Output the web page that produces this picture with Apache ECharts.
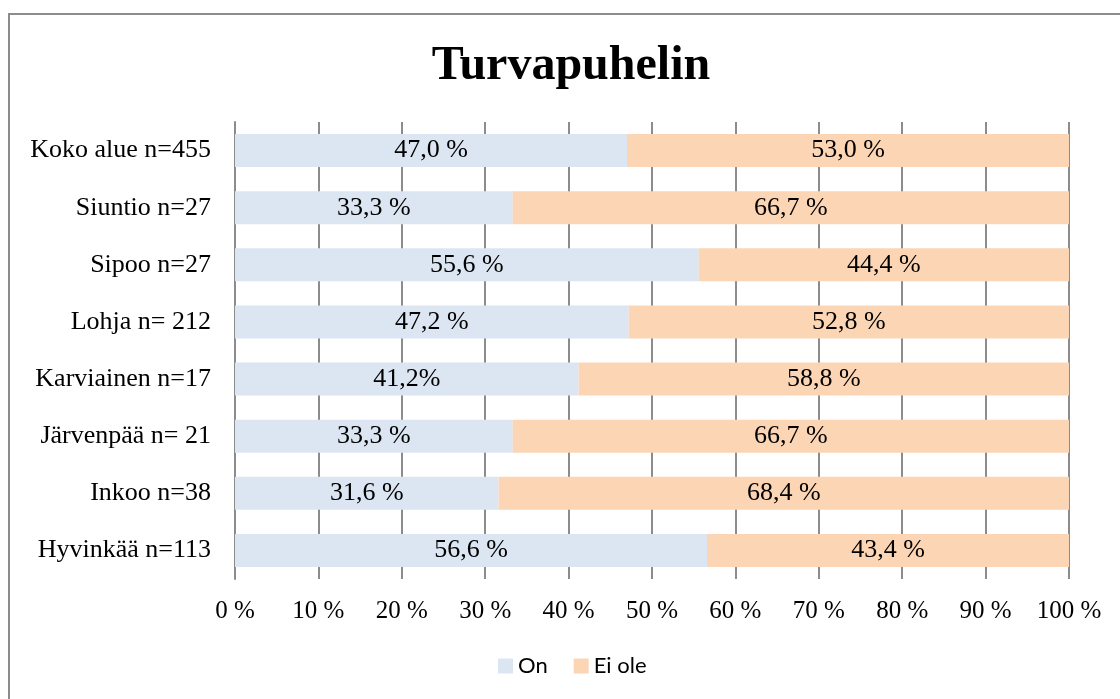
<!DOCTYPE html>
<html>
<head>
<meta charset="utf-8">
<script src="https://cdn.jsdelivr.net/npm/echarts@6/dist/echarts.min.js"></script>
<style>
html, body { margin: 0; padding: 0; background: #fff; }
#chart { width: 1120px; height: 699px; }
</style>
</head>
<body>
<div id="chart"></div>
<script>
// kategoriat alhaalta ylös (echarts piirtää category-akselin alhaalta)
const categories = ['Hyvinkää n=113', 'Inkoo n=38', 'Järvenpää n= 21', 'Karviainen n=17',
    'Lohja n= 212', 'Sipoo n=27', 'Siuntio n=27', 'Koko alue n=455'];
const onValues = [56.6, 31.6, 33.3, 41.2, 47.2, 55.6, 33.3, 47.0];
const eiOleValues = [43.4, 68.4, 66.7, 58.8, 52.8, 44.4, 66.7, 53.0];
const onLabels = ['56,6 %', '31,6 %', '33,3 %', '41,2%', '47,2 %', '55,6 %', '33,3 %', '47,0 %'];
const eiOleLabels = ['43,4 %', '68,4 %', '66,7 %', '58,8 %', '52,8 %', '44,4 %', '66,7 %', '53,0 %'];
const xTicks = [0, 10, 20, 30, 40, 50, 60, 70, 80, 90, 100];

const serif = '"Liberation Serif", "DejaVu Serif", serif';

const myChart = echarts.init(document.getElementById('chart'), null, { renderer: 'canvas' });

const option = {
    backgroundColor: '#fff',
    animation: false,
    title: {
        text: 'Turvapuhelin',
        left: 566,
        textAlign: 'center',
        top: 38,
        textStyle: { fontFamily: serif, fontSize: 48, fontWeight: 'bold', color: '#000' }
    },
    graphic: [{
        type: 'rect',
        shape: { x: 9, y: 14, width: 1200, height: 800 },
        style: { fill: 'none', stroke: '#8c8c8c', lineWidth: 2 },
        silent: true
    }],
    legend: {
        bottom: 17,
        left: 493,
        itemWidth: 15,
        itemHeight: 15,
        itemGap: 26,
        icon: 'rect',
        textStyle: { fontFamily: 'Lato, "Open Sans", sans-serif', fontSize: 22, color: '#000' },
        data: ['On', 'Ei ole']
    },
    grid: {
        left: 235,
        right: 51,
        top: 122,
        height: 457,
        containLabel: false
    },
    xAxis: {
        type: 'value',
        min: 0,
        max: 100,
        interval: 10,
        axisLine: { show: false },
        axisTick: { show: false },
        axisLabel: {
            margin: 20,
            fontFamily: serif,
            fontSize: 25,
            color: '#000',
            formatter: v => xTicks.includes(v) ? v + ' %' : ''
        },
        splitLine: { show: true, lineStyle: { color: '#8c8c8c', width: 2 } }
    },
    yAxis: {
        type: 'category',
        data: categories,
        axisLine: { show: true, lineStyle: { color: '#8c8c8c', width: 2 } },
        axisTick: { show: false },
        axisLabel: { margin: 24, fontFamily: serif, fontSize: 26, color: '#000' }
    },
    series: [
        {
            name: 'On',
            type: 'bar',
            stack: 'total',
            barWidth: 33,
            itemStyle: { color: '#dce6f2' },
            label: {
                show: true,
                position: 'inside',
                fontFamily: serif,
                fontSize: 26,
                color: '#000',
                formatter: p => onLabels[p.dataIndex]
            },
            data: onValues
        },
        {
            name: 'Ei ole',
            type: 'bar',
            stack: 'total',
            barWidth: 33,
            itemStyle: { color: '#fcd5b5' },
            label: {
                show: true,
                position: 'inside',
                fontFamily: serif,
                fontSize: 26,
                color: '#000',
                formatter: p => eiOleLabels[p.dataIndex]
            },
            data: eiOleValues
        }
    ]
};

myChart.setOption(option);
</script>
</body>
</html>
